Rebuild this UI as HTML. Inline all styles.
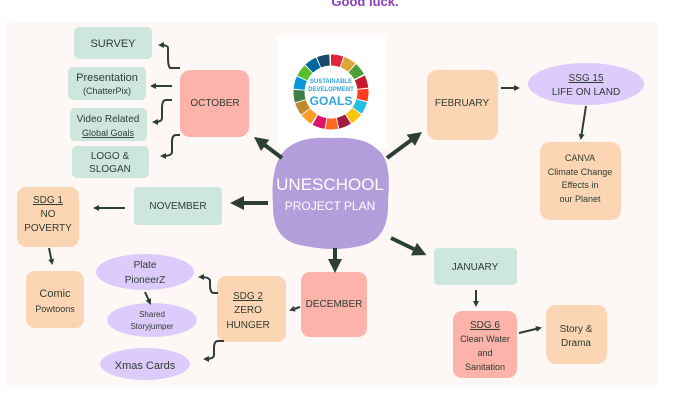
<!DOCTYPE html>
<html><head><meta charset="utf-8"><style>
html,body{margin:0;padding:0;background:#fff;width:690px;height:400px;overflow:hidden}
svg{display:block}
text{font-family:"Liberation Sans",sans-serif;fill:#2f3d33;text-anchor:middle}
</style></head><body>
<svg width="690" height="400" viewBox="0 0 690 400" xmlns="http://www.w3.org/2000/svg">
<defs>
<marker id="a" markerWidth="6" markerHeight="6" refX="4" refY="3" orient="auto" markerUnits="userSpaceOnUse"><path d="M0,0 L6,3 L0,6 z" fill="#2d3e34"/></marker>
<marker id="b" markerWidth="14" markerHeight="14" refX="9" refY="7" orient="auto" markerUnits="userSpaceOnUse"><path d="M0,0 L14,7 L0,14 z" fill="#2d3e34"/></marker>
</defs>
<text x="365" y="6" style="font-size:13px;font-weight:bold;fill:#8a3fb8">Good luck.</text>
<rect x="6" y="22" width="651" height="365" fill="#fdf8f5"/>

<!-- logo -->
<rect x="277" y="36" width="110" height="112" fill="#fff"/>
<g transform="translate(331,92)" fill="none" stroke-width="11">
<circle r="32" stroke="#e5243b" stroke-dasharray="10.8 190.3" transform="rotate(-90)"/>
<circle r="32" stroke="#dda63a" stroke-dasharray="10.8 190.3" transform="rotate(-69)"/>
<circle r="32" stroke="#4c9f38" stroke-dasharray="10.8 190.3" transform="rotate(-48)"/>
<circle r="32" stroke="#c5192d" stroke-dasharray="10.8 190.3" transform="rotate(-26)"/>
<circle r="32" stroke="#ff3a21" stroke-dasharray="10.8 190.3" transform="rotate(-5)"/>
<circle r="32" stroke="#26bde2" stroke-dasharray="10.8 190.3" transform="rotate(16)"/>
<circle r="32" stroke="#fcc30b" stroke-dasharray="10.8 190.3" transform="rotate(37)"/>
<circle r="32" stroke="#a21942" stroke-dasharray="10.8 190.3" transform="rotate(58)"/>
<circle r="32" stroke="#fd6925" stroke-dasharray="10.8 190.3" transform="rotate(79)"/>
<circle r="32" stroke="#dd1367" stroke-dasharray="10.8 190.3" transform="rotate(100)"/>
<circle r="32" stroke="#fd9d24" stroke-dasharray="10.8 190.3" transform="rotate(122)"/>
<circle r="32" stroke="#bf8b2e" stroke-dasharray="10.8 190.3" transform="rotate(143)"/>
<circle r="32" stroke="#3f7e44" stroke-dasharray="10.8 190.3" transform="rotate(164)"/>
<circle r="32" stroke="#0a97d9" stroke-dasharray="10.8 190.3" transform="rotate(185)"/>
<circle r="32" stroke="#56c02b" stroke-dasharray="10.8 190.3" transform="rotate(206)"/>
<circle r="32" stroke="#00689d" stroke-dasharray="10.8 190.3" transform="rotate(227)"/>
<circle r="32" stroke="#19486a" stroke-dasharray="10.8 190.3" transform="rotate(248)"/>
</g>
<text x="331" y="83" style="font-size:6px;font-weight:bold;fill:#2aa6d8">SUSTAINABLE</text>
<text x="331" y="91" style="font-size:6px;font-weight:bold;fill:#2aa6d8">DEVELOPMENT</text>
<text x="331" y="105" style="font-size:12px;font-weight:bold;fill:#2aa6d8">GOALS</text>

<!-- cloud -->
<path d="M285,150 Q300,136 330,138 Q365,136 378,150 Q392,160 388,200 Q390,240 360,246 Q335,252 305,246 Q272,242 273,205 Q270,165 285,150 z" fill="#b39ddb"/>
<text x="330" y="190" style="font-size:17px;fill:#fff">UNESCHOOL</text>
<text x="330" y="210" style="font-size:12px;fill:#fff">PROJECT PLAN</text>

<!-- nodes -->
<g>
<rect x="74" y="27" width="78" height="32" rx="5" fill="#cde7df"/>
<text x="113" y="47" style="font-size:11px">SURVEY</text>
<rect x="68" y="67" width="78" height="33" rx="5" fill="#cde7df"/>
<text x="107" y="81" style="font-size:11px">Presentation</text>
<text x="107" y="94" style="font-size:9px">(ChatterPix)</text>
<rect x="70" y="108" width="77" height="33" rx="5" fill="#cde7df"/>
<text x="108" y="122" style="font-size:10px">Video Related</text>
<text x="108" y="136" style="font-size:9px;text-decoration:underline">Global Goals</text>
<rect x="72" y="146" width="77" height="32" rx="5" fill="#cde7df"/>
<text x="110" y="159" style="font-size:10px">LOGO &amp;</text>
<text x="110" y="172" style="font-size:10px">SLOGAN</text>
<rect x="180" y="70" width="69" height="67" rx="10" fill="#fbb3aa"/>
<text x="215" y="106" style="font-size:10px">OCTOBER</text>
<rect x="134" y="187" width="88" height="38" rx="4" fill="#cde7df"/>
<text x="178" y="209" style="font-size:10px">NOVEMBER</text>
<rect x="17" y="187" width="62" height="60" rx="9" fill="#fcd6b4"/>
<text x="48" y="203" style="font-size:10px;text-decoration:underline">SDG 1</text>
<text x="48" y="217" style="font-size:10px">NO</text>
<text x="48" y="231" style="font-size:10px">POVERTY</text>
<rect x="26" y="271" width="58" height="57" rx="9" fill="#fcd6b4"/>
<text x="55" y="297" style="font-size:11px">Comic</text>
<text x="55" y="312" style="font-size:9px">Powtoons</text>
<ellipse cx="145" cy="272" rx="49" ry="18" fill="#dccbfb"/>
<text x="145" y="268" style="font-size:10px">Plate</text>
<text x="145" y="283" style="font-size:10px">PioneerZ</text>
<ellipse cx="152" cy="320" rx="45" ry="17" fill="#dccbfb"/>
<text x="152" y="317" style="font-size:8px">Shared</text>
<text x="152" y="329" style="font-size:8px">Storyjumper</text>
<ellipse cx="145" cy="364" rx="45" ry="16" fill="#dccbfb"/>
<text x="145" y="369" style="font-size:11px">Xmas Cards</text>
<rect x="217" y="276" width="69" height="66" rx="9" fill="#fcd6b4"/>
<text x="248" y="299" style="font-size:10px;text-decoration:underline">SDG 2</text>
<text x="248" y="313" style="font-size:10px">ZERO</text>
<text x="248" y="328" style="font-size:10px">HUNGER</text>
<rect x="301" y="272" width="66" height="65" rx="9" fill="#fbb3aa"/>
<text x="334" y="307" style="font-size:10px">DECEMBER</text>
<rect x="427" y="70" width="71" height="70" rx="10" fill="#fcd6b4"/>
<text x="462" y="106" style="font-size:10px">FEBRUARY</text>
<ellipse cx="586" cy="84" rx="58" ry="21" fill="#dccbfb"/>
<text x="586" y="81" style="font-size:10px;text-decoration:underline">SSG 15</text>
<text x="586" y="95" style="font-size:10px">LIFE ON LAND</text>
<rect x="540" y="142" width="81" height="78" rx="10" fill="#fcd6b4"/>
<text x="580" y="161" style="font-size:9px">CANVA</text>
<text x="580" y="175" style="font-size:9px">Climate Change</text>
<text x="580" y="188" style="font-size:9px">Effects in</text>
<text x="580" y="202" style="font-size:9px">our Planet</text>
<rect x="434" y="248" width="83" height="37" rx="4" fill="#cde7df"/>
<text x="475" y="270" style="font-size:10px">JANUARY</text>
<rect x="453" y="311" width="64" height="67" rx="9" fill="#fbb3aa"/>
<text x="485" y="328" style="font-size:10px;text-decoration:underline">SDG 6</text>
<text x="485" y="342" style="font-size:9px">Clean Water</text>
<text x="485" y="356" style="font-size:9px">and</text>
<text x="485" y="370" style="font-size:9px">Sanitation</text>
<rect x="546" y="305" width="61" height="59" rx="10" fill="#fcd6b4"/>
<text x="576" y="332" style="font-size:10px">Story &amp;</text>
<text x="576" y="346" style="font-size:10px">Drama</text>
</g>

<!-- thin arrows -->
<g stroke="#2d3e34" stroke-width="2" fill="none" marker-end="url(#a)">
<path d="M180,68 L170,68 Q168,66 168,58 L168,48 Q168,45 160,45"/>
<path d="M172,86 L152,86"/>
<path d="M172,100 L166,100 Q162,100 162,108 L162,118 Q162,122 154,122"/>
<path d="M180,135 L176,135 Q172,135 172,142 L172,152 Q172,156 162,156"/>
<path d="M125,208 L95,208"/>
<path d="M49,248 L52,263"/>
<path d="M218,293 L214,293 Q210,293 210,285 L210,281 Q210,277 200,277"/>
<path d="M145,292 L150,303"/>
<path d="M224,341 L218,341 Q214,341 214,348 L214,355 Q214,359 205,359"/>
<path d="M300,307 L291,310"/>
<path d="M501,88 L518,88"/>
<path d="M586,106 L581,138"/>
<path d="M476,290 L476,305"/>
<path d="M519,333 L540,328"/>
</g>
<!-- thick arrows -->
<g stroke="#2d3e34" stroke-width="4" fill="none" marker-end="url(#b)">
<path d="M282,158 L258,140"/>
<path d="M268,203 L235,203"/>
<path d="M335,248 L335,268"/>
<path d="M387,158 L418,135"/>
<path d="M391,238 L422,253"/>
</g>
</svg>
</body></html>
